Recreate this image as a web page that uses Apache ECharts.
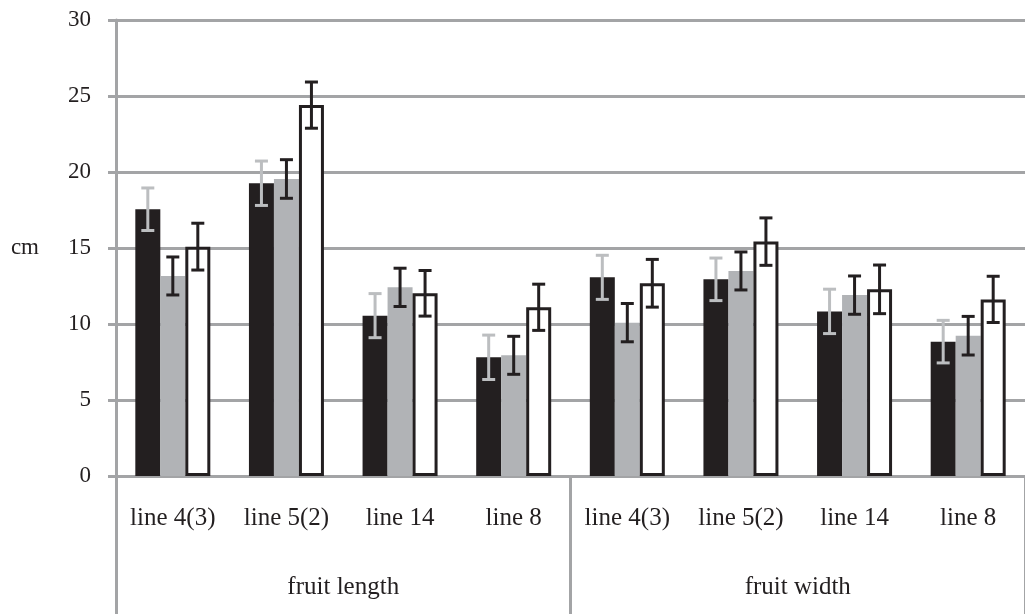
<!DOCTYPE html>
<html>
<head>
<meta charset="utf-8">
<script src="https://cdn.jsdelivr.net/npm/echarts@6/dist/echarts.min.js"></script>
<style>
html,body{margin:0;padding:0;background:#fff;}
#main{width:1025px;height:614px;}
</style>
</head>
<body>
<div id="main"></div>
<script>
var categories = ['line 4(3)','line 5(2)','line 14','line 8','line 4(3)','line 5(2)','line 14','line 8'];
var groups = ['fruit length','fruit width'];
var yTicks = [0,5,10,15,20,25,30];

var blackMeans = [17.55, 19.26, 10.55, 7.81, 13.07, 12.94, 10.83, 8.84];
var blackErr   = [1.40, 1.46, 1.45, 1.46, 1.45, 1.40, 1.46, 1.40];
var grayMeans  = [13.16, 19.54, 12.41, 7.94, 10.09, 13.49, 11.90, 9.23];
var grayErr    = [1.25, 1.27, 1.26, 1.25, 1.26, 1.25, 1.26, 1.27];
var whiteMeans = [15.09, 24.40, 12.02, 11.10, 12.68, 15.42, 12.28, 11.62];
var whiteErr   = [1.54, 1.52, 1.50, 1.52, 1.57, 1.56, 1.60, 1.52];

var FONT = '"Liberation Serif", "Times New Roman", serif';
var GRID_COLOR = '#a3a4a6';
var DARK = '#231f20';
var BAR_W = 25;

function errData(means, errs){
  return means.map(function(m,i){ return [i, m - errs[i], m + errs[i]]; });
}
function errRender(offset, color){
  return function(params, api){
    var x = api.value(0);
    var lo = api.coord([x, api.value(1)]);
    var hi = api.coord([x, api.value(2)]);
    var cx = lo[0] + offset;
    var cap = 6.5;
    var style = {stroke: color, lineWidth: 3};
    return {
      type: 'group',
      children: [
        {type:'line', shape:{x1:cx, y1:hi[1], x2:cx, y2:lo[1]}, style: style},
        {type:'line', shape:{x1:cx-cap, y1:hi[1], x2:cx+cap, y2:hi[1]}, style: style},
        {type:'line', shape:{x1:cx-cap, y1:lo[1], x2:cx+cap, y2:lo[1]}, style: style}
      ]
    };
  };
}

var chart = echarts.init(document.getElementById('main'), null, {renderer:'canvas'});
chart.setOption({
  backgroundColor: '#fff',
  animation: false,
  grid: {left: 116, right: -5, top: 20, bottom: 138, containLabel: false},
  xAxis: [{
    type: 'category',
    data: categories,
    position: 'bottom',
    axisLine: {show: true, lineStyle: {color: GRID_COLOR, width: 3}},
    axisTick: {show: false},
    axisLabel: {color: DARK, fontFamily: FONT, fontSize: 25, margin: 30, interval: 0},
    splitLine: {show: false}
  },{
    type: 'category',
    data: groups,
    position: 'bottom',
    axisLine: {show: false},
    axisTick: {show: true, length: 140, lineStyle: {color: GRID_COLOR, width: 3}},
    axisLabel: {color: DARK, fontFamily: FONT, fontSize: 25, margin: 99, interval: 0},
    splitLine: {show: false}
  }],
  yAxis: {
    type: 'value',
    min: 0, max: 30, interval: 5,
    name: 'cm',
    nameLocation: 'middle',
    nameRotate: 0,
    nameGap: 77,
    nameTextStyle: {color: DARK, fontFamily: FONT, fontSize: 23},
    axisLine: {show: true, lineStyle: {color: GRID_COLOR, width: 3}},
    axisTick: {show: true, length: 8, inside: false, lineStyle: {color: GRID_COLOR, width: 3}},
    axisLabel: {color: DARK, fontFamily: FONT, fontSize: 23, margin: 25,
      formatter: function(v){ return yTicks.indexOf(v) >= 0 ? String(v) : ''; }},
    splitLine: {show: true, lineStyle: {color: GRID_COLOR, width: 3}}
  },
  series: [
    {type:'bar', name:'black', data: blackMeans, barWidth: BAR_W, barGap: '0%',
      itemStyle:{color: DARK}, z: 2},
    {type:'bar', name:'gray', data: grayMeans, barWidth: BAR_W, barGap: '0%',
      itemStyle:{color: '#b1b3b6'}, z: 2},
    {type:'bar', name:'white', data: whiteMeans, barWidth: BAR_W, barGap: '0%',
      itemStyle:{color: '#ffffff', borderColor: DARK, borderWidth: 3}, z: 3},
    {type:'custom', data: errData(blackMeans, blackErr), renderItem: errRender(-BAR_W, '#bcbec0'), z: 5,
      encode:{x:0, y:[1,2]}},
    {type:'custom', data: errData(grayMeans, grayErr), renderItem: errRender(0, DARK), z: 5,
      encode:{x:0, y:[1,2]}},
    {type:'custom', data: errData(whiteMeans, whiteErr), renderItem: errRender(BAR_W, DARK), z: 5,
      encode:{x:0, y:[1,2]}}
  ]
});
</script>
</body>
</html>
